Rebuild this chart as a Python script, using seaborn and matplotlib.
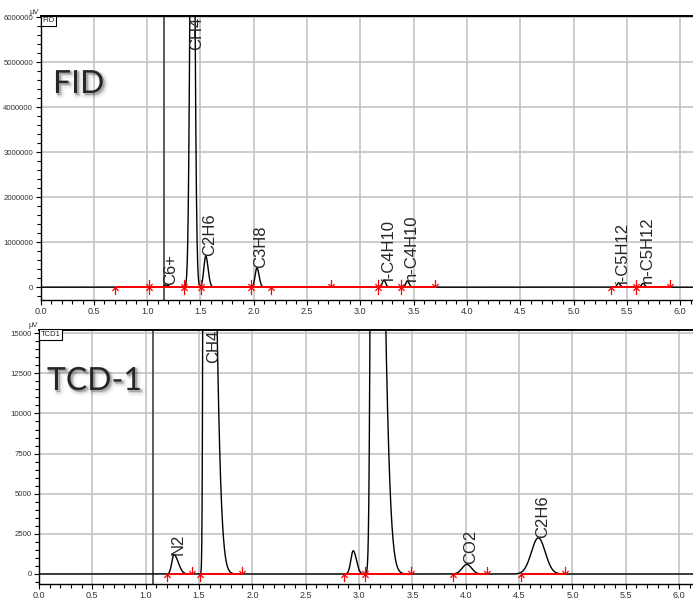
import numpy as np
import pandas as pd
import matplotlib.pyplot as plt
import matplotlib.patheffects as pe
from matplotlib import font_manager
from matplotlib.path import Path
from matplotlib.ticker import MultipleLocator, AutoMinorLocator, FuncFormatter, FormatStrFormatter
import seaborn as sns

# ---- FID channel: peaks ----
fid_names = ['C6+', 'CH4', 'C2H6', 'C3H8', 'i-C4H10', 'n-C4H10', 'i-C5H12', 'n-C5H12']
fid_rt = [1.18, 1.425, 1.55, 2.03, 3.22, 3.44, 5.42, 5.65]
fid_height = [50000, 14000000, 690000, 430000, 160000, 140000, 90000, 85000]
fid_sigma_left = [0.02, 0.0192, 0.018, 0.017, 0.014, 0.014, 0.014, 0.014]
fid_sigma_right = [0.02, 0.0192, 0.022, 0.02, 0.017, 0.017, 0.017, 0.017]

# integration events (red arrows) and baselines
fid_event_time = [0.70, 1.02, 1.35, 1.51, 1.97, 2.16, 2.72, 3.17, 3.38, 3.70, 5.35, 5.59, 5.90]
fid_event_kind = ['up', 'both', 'both', 'both', 'both', 'up', 'down', 'both', 'both', 'down', 'up', 'both', 'down']
fid_base_start = [0.70, 5.35]
fid_base_end = [3.70, 5.90]
fid_marker_time = [1.156]

# ---- TCD-1 channel ----
tcd_names = ['N2', 'CH4', '', '', 'CO2', 'C2H6']
tcd_rt = [1.265, 1.55, 2.945, 3.13, 4.01, 4.68]
tcd_height = [1200, 72000, 1450, 60000, 600, 2250]
tcd_sigma_left = [0.02, 0.009, 0.022, 0.017, 0.044, 0.065]
tcd_sigma_right = [0.04, 0.068, 0.03, 0.073, 0.044, 0.065]

tcd_event_time = [1.20, 1.43, 1.51, 1.90, 2.86, 3.06, 3.49, 3.88, 4.20, 4.52, 4.93]
tcd_event_kind = ['up', 'down', 'up', 'down', 'up', 'both', 'down', 'up', 'down', 'up', 'down']
tcd_base_start = [1.20, 1.51, 2.86, 3.88, 4.52]
tcd_base_end = [1.43, 1.90, 3.49, 4.20, 4.93]
tcd_marker_time = [1.07]


def chromatogram(t, rt, height, s_left, s_right):
    # sum of (slightly asymmetric) gaussian peaks on a flat baseline
    y = np.zeros_like(t)
    for c, h, sl, sr in zip(rt, height, s_left, s_right):
        s = np.where(t < c, sl, sr)
        y += h * np.exp(-0.5 * ((t - c) / s) ** 2)
    return y


up_arrow = Path([(0, -1), (0, 0), (-0.4, -0.45), (0, 0), (0.4, -0.45)],
                [Path.MOVETO, Path.LINETO, Path.MOVETO, Path.LINETO, Path.LINETO])
down_arrow = Path([(0, 1), (0, 0), (-0.4, 0.45), (0, 0), (0.4, 0.45)],
                  [Path.MOVETO, Path.LINETO, Path.MOVETO, Path.LINETO, Path.LINETO])

sns.set_style('white')
plt.rcParams['font.family'] = ['Liberation Sans', 'DejaVu Sans']

# narrow face for the tick numbers if it is there
installed = {f.name for f in font_manager.fontManager.ttflist}
if 'Liberation Sans Narrow' in installed:
    tick_family, ytick_size = 'Liberation Sans Narrow', 6.8
else:
    tick_family, ytick_size = 'Liberation Sans', 5.6

fig = plt.figure(figsize=(6.93, 6.02), dpi=100)
ax_fid = fig.add_axes([40.5 / 693, 302 / 602, 652.5 / 693, 283.7 / 602])
ax_tcd = fig.add_axes([39 / 693, 18 / 602, 654 / 693, 254 / 602])

t = np.linspace(0, 6.15, 4000)


def draw_channel(ax, names, rt, height, sl, sr, ev_time, ev_kind, b_start, b_end,
                 marker_time, ylim, ystep, xmax):
    df = pd.DataFrame({'time': t, 'signal': chromatogram(t, rt, height, sl, sr)})
    ax.set_xlim(0, xmax)
    ax.set_ylim(*ylim)

    ax.grid(True, which='major', color='#c4c4c4', lw=1.2)
    ax.set_axisbelow(True)

    for m in marker_time:
        ax.axvline(m, color='#5a5a5a', lw=1.4, zorder=1.5)

    sns.lineplot(data=df, x='time', y='signal', ax=ax, color='black', lw=1.0,
                 estimator=None, sort=False, zorder=3)

    # integration baselines and event arrows
    ax.hlines(np.zeros(len(b_start)), b_start, b_end, color='red', lw=1.4, zorder=4)
    ev_time = np.array(ev_time)
    ev_kind = np.array(ev_kind)
    ups = ev_time[(ev_kind == 'up') | (ev_kind == 'both')]
    downs = ev_time[(ev_kind == 'down') | (ev_kind == 'both')]
    ax.plot(ups, np.zeros(len(ups)), ls='none', marker=up_arrow, ms=11,
            mec='red', mfc='none', mew=0.9, zorder=5)
    ax.plot(downs, np.zeros(len(downs)), ls='none', marker=down_arrow, ms=11,
            mec='red', mfc='none', mew=0.9, zorder=5)

    # peak names, rotated, just right of the apex
    ytop = ylim[1]
    for i, name in enumerate(names):
        if not name:
            continue
        if height[i] < ytop:
            ax.annotate(name, xy=(rt[i], height[i]), xytext=(3, 0), textcoords='offset points',
                        rotation=90, ha='center', va='bottom', fontsize=12)
        else:
            peak = chromatogram(t, [rt[i]], [height[i]], [sl[i]], [sr[i]])
            mid = t[peak >= ytop].mean()
            ax.annotate(name, xy=(mid, ytop), xytext=(3, 0), textcoords='offset points',
                        rotation=90, ha='center', va='top', fontsize=12)

    ax.xaxis.set_major_locator(MultipleLocator(0.5))
    ax.xaxis.set_minor_locator(MultipleLocator(0.1))
    ax.xaxis.set_major_formatter(FormatStrFormatter('%.1f'))
    ax.yaxis.set_major_locator(MultipleLocator(ystep))
    ax.yaxis.set_minor_locator(AutoMinorLocator(5))
    ax.yaxis.set_major_formatter(FuncFormatter(lambda v, p: f'{v:.0f}'))
    ax.tick_params(which='both', direction='out', bottom=True, left=True,
                   width=0.8, color='black', labelcolor='#333333', pad=1.5)
    ax.tick_params(axis='x', labelsize=6.5)
    ax.tick_params(axis='y', labelsize=ytick_size)
    ax.tick_params(which='major', length=3.8)
    ax.tick_params(which='minor', length=2.6)
    for lbl in ax.get_yticklabels():
        lbl.set_fontfamily(tick_family)
    ax.set_xlabel('')
    ax.set_ylabel('')
    ax.spines['right'].set_visible(False)
    ax.spines['top'].set_linewidth(1.4)
    for side in ['left', 'bottom', 'top']:
        ax.spines[side].set_color('black')
    ax.spines['left'].set_linewidth(1.0)
    ax.spines['bottom'].set_linewidth(1.0)


draw_channel(ax_fid, fid_names, fid_rt, fid_height, fid_sigma_left, fid_sigma_right,
             fid_event_time, fid_event_kind, fid_base_start, fid_base_end,
             fid_marker_time, (-284000, 6020000), 1000000, 6.12)
draw_channel(ax_tcd, tcd_names, tcd_rt, tcd_height, tcd_sigma_left, tcd_sigma_right,
             tcd_event_time, tcd_event_kind, tcd_base_start, tcd_base_end,
             tcd_marker_time, (-623, 15200), 2500, 6.13)

# small unit and channel tags at the top-left corner of each panel
for ax, tag in [(ax_fid, 'FID'), (ax_tcd, 'TCD1')]:
    ax.annotate('µV', xy=(0, 1), xycoords='axes fraction', xytext=(-1, 0.5),
                textcoords='offset points', ha='right', va='bottom', fontsize=5.5,
                color='#333333')
    ax.text(0.003, 0.996, tag, transform=ax.transAxes, ha='left', va='top', fontsize=5.5,
            zorder=6, bbox=dict(boxstyle='square,pad=0.2', fc='white', ec='black', lw=0.8))

# big channel titles with a soft shadow
shadow = [pe.Stroke(offset=(2.0, -2.0), linewidth=4, foreground='black', alpha=0.05),
          pe.Stroke(offset=(1.5, -1.5), linewidth=2, foreground='black', alpha=0.08),
          pe.Stroke(offset=(1.0, -1.0), linewidth=0.5, foreground='black', alpha=0.15),
          pe.Normal()]
fig.text(53 / 693, 1 - 93 / 602, 'FID', fontsize=23, family='Lato', va='baseline',
         path_effects=shadow)
fig.text(47 / 693, 1 - 390 / 602, 'TCD-1', fontsize=23, family='Lato', va='baseline',
         path_effects=shadow)

fig.savefig('out.png', dpi=100)
